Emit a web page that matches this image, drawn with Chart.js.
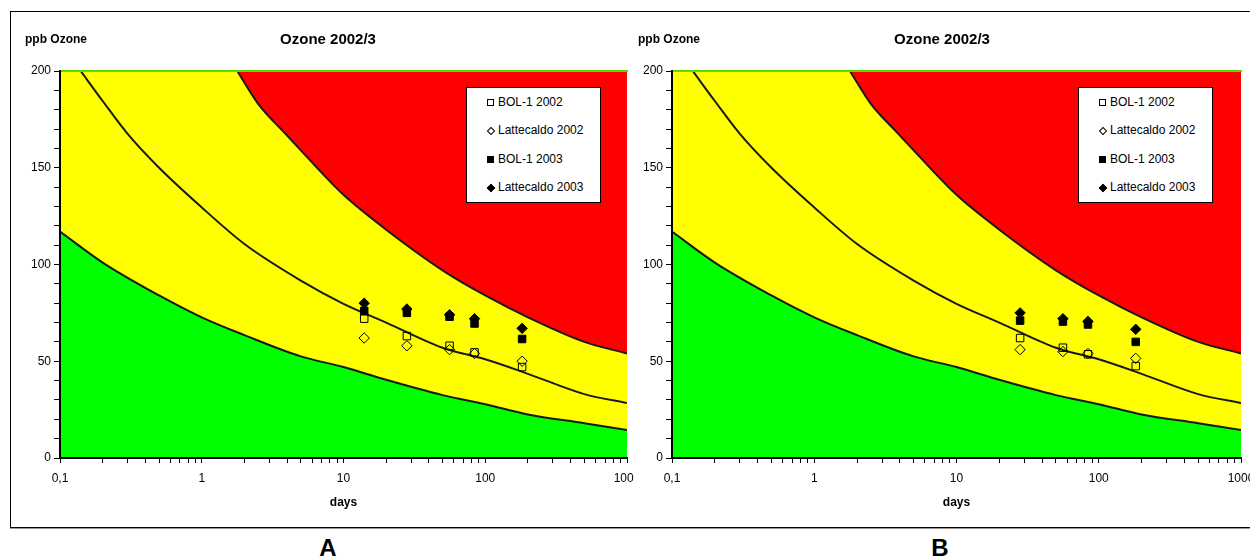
<!DOCTYPE html>
<html>
<head>
<meta charset="utf-8">
<script src="https://cdn.jsdelivr.net/npm/chart.js@4/dist/chart.umd.min.js"></script>
<style>
html, body { margin:0; padding:0; background:#fff; width:1250px; height:558px; overflow:hidden; font-family:"Liberation Sans", Arial, sans-serif; }
.frame { position:absolute; left:10px; top:11px; width:1260px; height:517px; box-sizing:border-box; border:1px solid #000; box-shadow:0 1px 0 #999; }
.wrap { position:absolute; top:0; height:530px; overflow:hidden; }
.wrap canvas { display:block; }
.txt { position:absolute; white-space:nowrap; color:#000; line-height:1; }
.ylab { font-size:12px; font-weight:bold; }
.ttl { font-size:15px; font-weight:bold; transform:translateX(-50%); }
.panel { font-size:24px; font-weight:bold; transform:translateX(-50%); }
.legend { position:absolute; top:87px; width:135px; height:116px; box-sizing:border-box; border:1px solid #000; background:#fff; }
.entry { position:absolute; left:0; width:100%; height:12px; font-size:12px; line-height:12px; }
.entry span.t { position:absolute; left:31px; top:0; white-space:nowrap; }
.mk { position:absolute; box-sizing:border-box; border:1px solid #000; }
</style>
</head>
<body>
<div class="frame"></div>

<div class="wrap" style="left:0; width:634px;"><canvas id="chartA" width="634" height="530"></canvas></div>
<div class="wrap" style="left:612px; width:638px;"><canvas id="chartB" width="638" height="530"></canvas></div>

<div class="txt ylab" style="left:25px; top:33px;">ppb Ozone</div>
<div class="txt ttl" style="left:328px; top:31px;">Ozone 2002/3</div>
<div class="txt ylab" style="left:638px; top:33px;">ppb Ozone</div>
<div class="txt ttl" style="left:942px; top:31px;">Ozone 2002/3</div>
<div class="txt panel" style="left:328px; top:536px;">A</div>
<div class="txt panel" style="left:940px; top:536px;">B</div>

<div class="legend" id="legendA" style="left:466px;"></div>
<div class="legend" id="legendB" style="left:1078px;"></div>

<script>
// ---------- data ----------
const seriesLabels = ['BOL-1 2002', 'Lattecaldo 2002', 'BOL-1 2003', 'Lattecaldo 2003'];

// Panel A (days of exposure)
const daysA = [14, 28, 56, 84, 182];
const bol2002A = [72, 63, 58, 54.6, 47];
const latt2002A = [62, 58, 56, 54, 50];
const bol2003A = [76, 75, 73, 69.5, 61.5];
const latt2003A = [80, 77, 74, 72, 67];

// Panel B
const daysB = [28, 56, 84, 182];
const bol2002B = [62, 57, 53.6, 47.5];
const latt2002B = [56, 55, 54, 51.5];
const bol2003B = [71, 70.5, 69, 60];
const latt2003B = [75, 72, 70.6, 66.5];

// Threshold curves (ppb vs days)
const lowerDays = [0.1, 0.2, 0.5, 1, 2, 5, 10, 20, 50, 100, 200, 500, 1000];
const lowerPpb  = [117, 101, 84, 72.7, 63.5, 52.5, 47, 40.4, 32.5, 27.8, 22.5, 18, 14.5];
const middleDays = [0.14, 0.2, 0.3, 0.5, 1, 2, 5, 10, 20, 50, 100, 200, 500, 1000];
const middlePpb  = [200, 184.5, 167.5, 150, 129.5, 110.6, 91.7, 79.7, 70, 57, 51, 43.5, 33, 28.4];
const upperDays = [1.78, 2.5, 3.9, 5, 10, 20, 50, 100, 200, 500, 1000];
const upperPpb  = [200, 183, 167.5, 159, 136, 118, 97, 84, 72.7, 60, 54];

// Axis ticks
const xLabelValues = [0.1, 1, 10, 100, 1000];
const xTickLabels = ['0,1', '1', '10', '100', '1000'];
const minorMultipliers = [1, 2, 3, 4, 5, 6, 7, 8, 9];
const yLabelValues = [0, 50, 100, 150, 200];

// ---------- chart ----------
const FONT = '"Liberation Sans", Arial, sans-serif';
const LINE = '#1a1a1a';
const xTickValues = [];
xLabelValues.slice(0, -1).forEach(d => minorMultipliers.forEach(m => xTickValues.push(+(d * m).toPrecision(6))));
xTickValues.push(xLabelValues[xLabelValues.length - 1]);

function pts(xs, ys) { return xs.map((x, i) => ({ x: x, y: ys[i] })); }

function curve(xs, ys, extra) {
  return Object.assign({
    data: pts(xs, ys), showLine: true, pointRadius: 0, pointHoverRadius: 0,
    borderWidth: 2, borderColor: LINE, cubicInterpolationMode: 'monotone', fill: false
  }, extra);
}

function markers(label, xs, ys, style, filled, order) {
  return {
    label: label, data: pts(xs, ys), showLine: false,
    pointStyle: style, pointRadius: style === 'rect' ? 5.3 : 5.2, pointHoverRadius: 5.2,
    pointBorderColor: '#000', pointBorderWidth: 1,
    pointBackgroundColor: filled ? '#000' : 'rgba(0,0,0,0)',
    borderColor: '#000', backgroundColor: filled ? '#000' : 'rgba(0,0,0,0)',
    order: order
  };
}

function makeChart(id, days, s1, s2, s3, s4, rightPad) {
  const datasets = [
    curve(lowerDays, lowerPpb, { label: 'zone green', fill: 'origin', backgroundColor: '#00ff00', borderColor: 'rgba(0,0,0,0)', borderWidth: 1, order: 9 }),
    curve(lowerDays, lowerPpb, { label: 'zone yellow', fill: 'end', backgroundColor: '#ffff00', order: 8 }),
    curve(upperDays, upperPpb, { label: 'zone red', fill: 'end', backgroundColor: '#ff0000', order: 7 }),
    curve(middleDays, middlePpb, { label: 'middle', order: 6 }),
    markers(seriesLabels[0], days, s1, 'rect', false, 3),
    markers(seriesLabels[1], days, s2, 'rectRot', false, 2),
    markers(seriesLabels[2], days, s3, 'rect', true, 1),
    markers(seriesLabels[3], days, s4, 'rectRot', true, 0)
  ];
  return new Chart(document.getElementById(id), {
    type: 'line',
    data: { datasets: datasets },
    options: {
      responsive: false, animation: false, devicePixelRatio: 1,
      layout: { padding: { left: 0, top: 71, right: rightPad, bottom: 12 } },
      plugins: { legend: { display: false }, tooltip: { enabled: false }, title: { display: false } },
      events: [],
      scales: {
        x: {
          type: 'logarithmic', min: 0.1, max: 1000, position: 'bottom',
          afterBuildTicks: s => { s.ticks = xTickValues.map(v => ({ value: v })); },
          afterFit: s => { s.height = 60; s.paddingLeft = 0; s.paddingRight = 0; },
          ticks: {
            autoSkip: false, maxRotation: 0, minRotation: 0, padding: 8, color: '#000',
            font: { family: FONT, size: 12 },
            callback: v => { const i = xLabelValues.findIndex(d => Math.abs(d - v) < 1e-9); return i >= 0 ? xTickLabels[i] : ''; }
          },
          grid: { display: true, drawOnChartArea: false, drawTicks: true, tickLength: 5, tickColor: '#000', tickWidth: 1 },
          border: { display: true, color: '#000', width: 2, z: 1 },
          title: { display: true, text: 'days', color: '#000', font: { family: FONT, size: 12, weight: 'bold' }, padding: { top: 8, bottom: 8 } }
        },
        xTop: {
          type: 'logarithmic', min: 0.1, max: 1000, position: 'top', display: true,
          afterFit: s => { s.height = 0; },
          ticks: { display: false }, grid: { display: false, drawTicks: false },
          border: { display: true, color: '#55dd00', width: 2, z: 1 }
        },
        y: {
          type: 'linear', min: 0, max: 200, position: 'left',
          afterFit: s => { s.width = 60; },
          ticks: {
            stepSize: 10, maxTicksLimit: 100, autoSkip: false, padding: 3, color: '#000',
            font: { family: FONT, size: 12 },
            callback: v => yLabelValues.includes(v) ? String(v) : ''
          },
          grid: { display: true, drawOnChartArea: false, drawTicks: true, tickLength: 6, tickColor: '#000', tickWidth: 1 },
          border: { display: true, color: '#000', width: 2, z: 1 }
        }
      }
    }
  });
}

const chartA = makeChart('chartA', daysA, bol2002A, latt2002A, bol2003A, latt2003A, 7);
const chartB = makeChart('chartB', daysB, bol2002B, latt2002B, bol2003B, latt2003B, 9);

// ---------- HTML legends built from the series labels ----------
function buildLegend(id) {
  const box = document.getElementById(id);
  const styles = [
    { rot: false, filled: false, size: 7 },
    { rot: true, filled: false, size: 6 },
    { rot: false, filled: true, size: 7 },
    { rot: true, filled: true, size: 6 }
  ];
  seriesLabels.forEach((lab, i) => {
    const e = document.createElement('div');
    e.className = 'entry';
    const cy = 13.5 + i * 28.5;
    e.style.top = (cy - 6) + 'px';
    const st = styles[i];
    const m = document.createElement('div');
    m.className = 'mk';
    m.style.width = st.size + 'px'; m.style.height = st.size + 'px';
    m.style.left = (23.5 - st.size / 2) + 'px';
    m.style.top = (6.5 - st.size / 2) + 'px';
    if (st.filled) m.style.background = '#000';
    if (st.rot) m.style.transform = 'rotate(45deg)';
    const t = document.createElement('span');
    t.className = 't';
    t.textContent = lab;
    e.appendChild(m); e.appendChild(t);
    box.appendChild(e);
  });
}
buildLegend('legendA');
buildLegend('legendB');
</script>
</body>
</html>
